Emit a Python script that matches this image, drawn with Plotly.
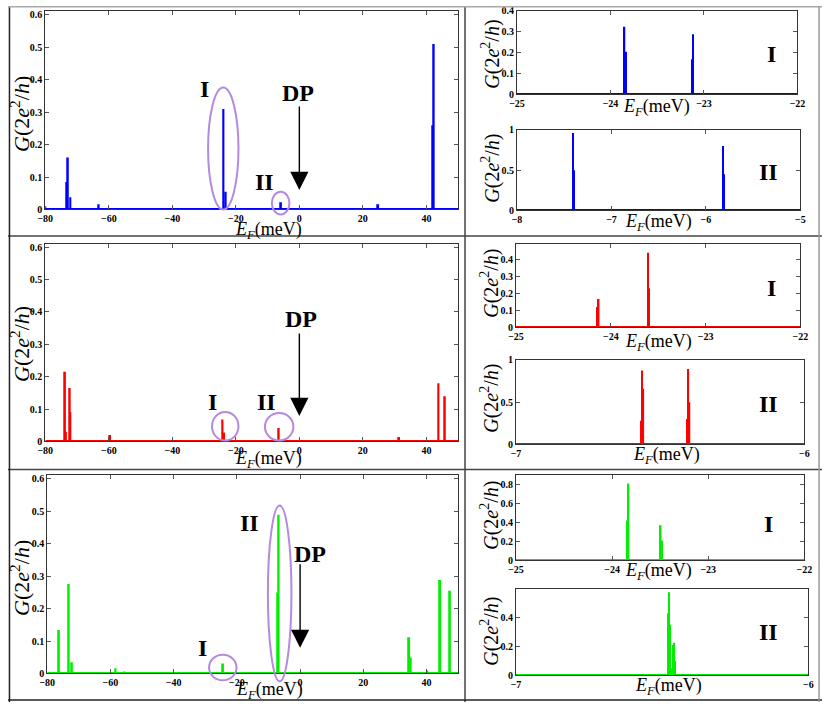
import plotly.graph_objects as go

W, H = 830, 708

# ---------------- data ----------------
# top row (blue)
blue_main_x = [-80.0, -73.2, -72.9, -72.1, -63.2, -23.9, -23.2, -5.8, 24.8, 42.0, 42.3]
blue_main_y = [0.010, 0.085, 0.160, 0.038, 0.016, 0.310, 0.055, 0.022, 0.016, 0.260, 0.510]
blue_I_x = [-23.850, -23.836, -23.130, -23.118]
blue_I_y = [0.324, 0.205, 0.169, 0.288]
blue_II_x = [-7.408, -7.394, -5.819, -5.808]
blue_II_y = [0.960, 0.500, 0.800, 0.450]

# middle row (red)
red_main_x = [-73.8, -73.5, -72.3, -72.1, -59.6, -24.2, -23.7, -6.5, 31.4, 43.8, 45.8]
red_main_y = [0.215, 0.030, 0.165, 0.090, 0.020, 0.068, 0.028, 0.042, 0.014, 0.180, 0.140]
red_I_x = [-24.140, -24.128, -23.608, -23.596]
red_I_y = [0.120, 0.167, 0.438, 0.230]
red_II_x = [-6.566, -6.562, -6.558, -6.406, -6.402, -6.398]
red_II_y = [0.280, 0.876, 0.660, 0.300, 0.891, 0.500]

# bottom row (green)
green_main_x = [-78.3, -76.3, -73.2, -72.2, -58.4, -55.5, -24.4, -7.0, -6.8, 26.7,
                34.5, 35.0, 40.2, 44.3, 47.4]
green_main_y = [0.003, 0.134, 0.276, 0.035, 0.016, 0.006, 0.031, 0.250, 0.489, 0.003,
                0.112, 0.049, 0.010, 0.288, 0.255]
green_I_x = [-23.842, -23.830, -23.494, -23.482]
green_I_y = [0.420, 0.810, 0.370, 0.210]
green_II_x = [-6.481, -6.4775, -6.474, -6.468, -6.4625, -6.4597, -6.456]
green_II_y = [0.430, 0.574, 0.350, 0.050, 0.210, 0.226, 0.100]

# axis settings
main_xrange = [-80, 50]
main_xticks = [-80, -60, -40, -20, 0, 20, 40]
main_yticks = [0, 0.1, 0.2, 0.3, 0.4, 0.5, 0.6]
zoomI_xrange = [-25, -22]
zoomI_xticks = [-25, -24, -23, -22]

BLUE, RED, GREEN = '#0000ff', '#ff0000', '#00ee00'
PURPLE = '#b48ae0'
SERIF = 'Liberation Serif'


def px(x):
    return x / W


def py(y):
    return 1 - y / H


# panel boxes in pixels: (left, right, top, bottom)
panels = [
    ('1', (38, 459, 5, 207), main_xrange, main_xticks, [0, 0.612], main_yticks,
     blue_main_x, blue_main_y, BLUE, 0.6),
    ('2', (519, 805, 5, 90), zoomI_xrange, zoomI_xticks, [0, 0.4], [0, 0.1, 0.2, 0.3, 0.4],
     blue_I_x, blue_I_y, BLUE, 0.016),
    ('3', (519, 808, 126, 208), [-8, -5], [-8, -7, -6, -5], [0, 1], [0, 0.5, 1],
     blue_II_x, blue_II_y, BLUE, 0.016),
    ('4', (38, 459, 242, 443), main_xrange, main_xticks, [0, 0.61], main_yticks,
     red_main_x, red_main_y, RED, 0.6),
    ('5', (518, 808, 242, 327), zoomI_xrange, zoomI_xticks, [0, 0.49], [0, 0.1, 0.2, 0.3, 0.4],
     red_I_x, red_I_y, RED, 0.016),
    ('6', (518, 812, 360, 446), [-7, -6], [-7, -6], [0, 1], [0, 0.5, 1],
     red_II_x, red_II_y, RED, 0.0045),
    ('7', (40, 459, 477, 679), main_xrange, main_xticks, [0, 0.612], main_yticks,
     green_main_x, green_main_y, GREEN, 0.6),
    ('8', (518, 812, 477, 564), zoomI_xrange, zoomI_xticks, [0, 0.9], [0, 0.2, 0.4, 0.6, 0.8],
     green_I_x, green_I_y, GREEN, 0.016),
    ('9', (518, 816, 593, 681), [-7, -6], [-7, -6], [0, 0.597], [0, 0.2, 0.4],
     green_II_x, green_II_y, GREEN, 0.0045),
]

fig = go.Figure()
layout = dict(
    width=W, height=H, margin=dict(l=0, r=0, t=0, b=0),
    paper_bgcolor='white', plot_bgcolor='white', showlegend=False,
    barmode='overlay', annotations=[], shapes=[],
)

tickfont = dict(family=SERIF, size=10, color='black', weight='bold')

for name, (l, r, t, b), xr, xt, yr, yt, xs, ys, col, bw in panels:
    xa = 'x' if name == '1' else 'x' + name
    ya = 'y' if name == '1' else 'y' + name
    fig.add_trace(go.Scatter(x=xr, y=[0, 0], mode='lines', line=dict(color=col, width=3),
                             xaxis=xa, yaxis=ya, hoverinfo='skip'))
    fig.add_trace(go.Bar(x=xs, y=ys, width=bw, marker=dict(color=col, line=dict(width=0)),
                         xaxis=xa, yaxis=ya))
    common = dict(ticks='inside', ticklen=4, tickcolor='#555', showline=True,
                  linecolor='#333', linewidth=1, mirror='ticks', showgrid=False,
                  zeroline=False, tickfont=tickfont)
    layout['xaxis' + ('' if name == '1' else name)] = dict(
        domain=[px(l), px(r)], range=xr, tickvals=xt, anchor=ya, **common)
    layout['yaxis' + ('' if name == '1' else name)] = dict(
        domain=[py(b), py(t)], range=yr, tickvals=yt, anchor=xa, **common)

ann = layout['annotations']
shp = layout['shapes']

ylab = '<i>G</i>(2<i>e</i><sup>2</sup>/<i>h</i>)'
xlab = '<i>E</i><sub><i>F</i></sub>(meV)'

for (x, y, s) in [(12, 110, 22), (492, 49, 20), (492, 165, 20), (12, 344, 22), (491, 282, 20),
                  (491, 399, 20), (12, 582, 22), (491, 518, 20), (491, 636, 20)]:
    ann.append(dict(text=ylab, x=px(x), y=py(y), xref='paper', yref='paper', showarrow=False,
                    textangle=-90, font=dict(family=SERIF, size=s, color='black'),
                    xanchor='center', yanchor='middle'))

for (x, y) in [(266, 228), (661, 103), (663, 220), (266, 461), (663, 342), (671, 457),
               (267, 696), (663, 575), (673, 692)]:
    ann.append(dict(text=xlab, x=px(x), y=py(y), xref='paper', yref='paper', showarrow=False,
                    font=dict(family=SERIF, size=18, color='black'),
                    xanchor='center', yanchor='middle'))

bigfont = dict(family=SERIF, size=24, color='black', weight='bold')
labels = [('I', 778, 49), ('II', 775, 169), ('I', 778, 287), ('II', 775, 405),
          ('I', 775, 527), ('II', 775, 637),
          ('I', 200, 84), ('II', 262, 179), ('DP', 296, 88),
          ('I', 209, 403), ('II', 264, 403), ('DP', 299, 318),
          ('II', 246, 526), ('I', 198, 653), ('DP', 308, 557)]
for txt, x, y in labels:
    ann.append(dict(text=txt, x=px(x), y=py(y), xref='paper', yref='paper', showarrow=False,
                    font=bigfont, xanchor='center', yanchor='middle'))

# DP arrows (tip at E_F = 0)
for xa, ya, ytip, length in [('x', 'y', 0.06, 85), ('x4', 'y4', 0.079, 84), ('x7', 'y7', 0.079, 85)]:
    ann.append(dict(text='', x=0, y=ytip, xref=xa, yref=ya, ax=0, ay=-length,
                    showarrow=True, arrowhead=2, arrowsize=2.6, arrowwidth=1.4,
                    arrowcolor='black'))

# purple ellipses (pixels)
for (x0, y0, x1, y1) in [(204, 83, 235, 207), (269, 189, 287, 212),
                         (208, 413, 235, 442), (262, 414, 291, 442),
                         (265, 508, 289, 687), (205, 660, 233, 686)]:
    shp.append(dict(type='circle', xref='paper', yref='paper', x0=px(x0), x1=px(x1),
                    y0=py(y1), y1=py(y0), line=dict(color=PURPLE, width=2)))

# panel dividers and outer frame
shp.append(dict(type='line', xref='paper', yref='paper', x0=0, x1=1, y0=py(234), y1=py(234),
                line=dict(color='#444', width=1.5)))
shp.append(dict(type='line', xref='paper', yref='paper', x0=0, x1=1, y0=py(471.5), y1=py(471.5),
                line=dict(color='#444', width=1.5)))
shp.append(dict(type='line', xref='paper', yref='paper', x0=px(466), x1=px(466), y0=0, y1=1,
                line=dict(color='#444', width=1.5)))
shp.append(dict(type='line', xref='paper', yref='paper', x0=px(1.5), x1=px(1.5), y0=0, y1=1,
                line=dict(color='#222', width=1.5)))
shp.append(dict(type='line', xref='paper', yref='paper', x0=0, x1=1, y0=py(706), y1=py(706),
                line=dict(color='#222', width=1.5)))
shp.append(dict(type='line', xref='paper', yref='paper', x0=0, x1=1, y0=py(0.7), y1=py(0.7),
                line=dict(color='#aaa', width=1.5)))
shp.append(dict(type='line', xref='paper', yref='paper', x0=px(827), x1=px(827), y0=0, y1=1,
                line=dict(color='#999', width=1.5)))

fig.update_layout(**layout)
fig.write_html('out.html', config={'displayModeBar': False},
               post_script="document.body.style.margin='0';")
